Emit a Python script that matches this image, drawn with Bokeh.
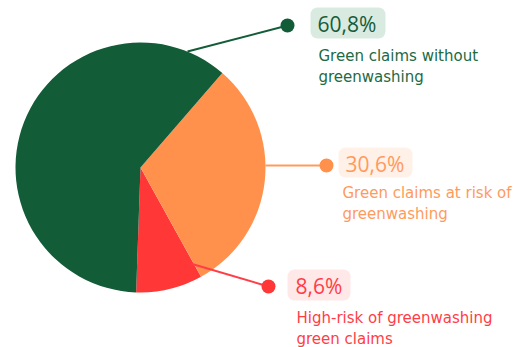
import numpy as np
from bokeh.plotting import figure
from bokeh.models import Range1d
from bokeh.core.properties import value
from bokeh.embed import file_html
from bokeh.resources import INLINE

# ---- data ----
categories = ["Green claims without\ngreenwashing",
              "Green claims at risk of\ngreenwashing",
              "High-risk of greenwashing\ngreen claims"]
shares = [60.8, 30.6, 8.6]
share_labels = ["60,8%", "30,6%", "8,6%"]

# ---- styles / layout ----
W, H = 514, 347
slice_colors = ["#135c38", "#ff914d", "#ff3737"]
text_colors = ["#1d6a43", "#ff9a5e", "#ff3d47"]
pct_colors = ["#155c3a", "#ff9a5e", "#ff3d47"]
box_fills = ["#d9ebe0", "#fff1e8", "#ffe8e8"]
cx, cy, R = 140, 347 - 167, 125
start_deg = -92.0  # start of smallest slice, pie drawn anticlockwise: red, orange, green

def Y(ypx):
    return H - ypx

p = figure(width=W, height=H, x_range=Range1d(0, W), y_range=Range1d(0, H),
           output_backend="svg", toolbar_location=None, min_border=0)
p.axis.visible = False
p.grid.visible = False
p.outline_line_color = None
p.background_fill_color = "white"
p.border_fill_color = "white"

# wedges: order anticlockwise red, orange, green
order = [2, 1, 0]
ang = np.deg2rad(start_deg)
for i in order:
    span = shares[i] / sum(shares) * 2 * np.pi
    p.wedge(x=cx, y=cy, radius=R, start_angle=ang, end_angle=ang + span,
            direction="anticlock", fill_color=slice_colors[i], line_color=None)
    ang += span

# connectors (layout)
conn_start = [(187, 51), (265, 165), (190, 263)]
dots = [(287, 25), (326, 165), (268, 286)]
line_colors = ["#135c38", "#ff9a5e", "#ff3d47"]
for i in range(3):
    (x0, y0), (x1, y1) = conn_start[i], dots[i]
    p.line([x0, x1], [Y(y0), Y(y1)], line_color=line_colors[i], line_width=2)
    p.scatter([x1], [Y(y1)], size=14, fill_color=slice_colors[i] if i != 1 else "#ff914d",
              line_color=None)

# label boxes
boxes = [(310, 385, 7, 38), (338, 412, 147, 177), (287, 350, 269, 300)]
pct_pos = [(317, 23), (345, 163), (295, 285)]
lab_pos = [(318, 55), (342, 192), (296, 317)]
for i in range(3):
    l, r, t, b = boxes[i]
    p.quad(left=l, right=r, top=Y(t), bottom=Y(b), fill_color=box_fills[i],
           line_color=None, border_radius=7)
    p.text(x=[pct_pos[i][0]], y=[Y(pct_pos[i][1])], text=[share_labels[i]],
           text_font=value("Open Sans"), text_font_size="21px",
           text_color=pct_colors[i], text_baseline="middle", text_align="left")
    lines = categories[i].split("\n")
    for k, ln in enumerate(lines):
        p.text(x=[lab_pos[i][0]], y=[Y(lab_pos[i][1] + 21 * k)], text=[ln],
               text_font=value("DejaVu Sans"), text_font_size="15px",
               text_color=text_colors[i], text_baseline="middle", text_align="left")

open("out.html", "w").write(file_html(p, INLINE))
